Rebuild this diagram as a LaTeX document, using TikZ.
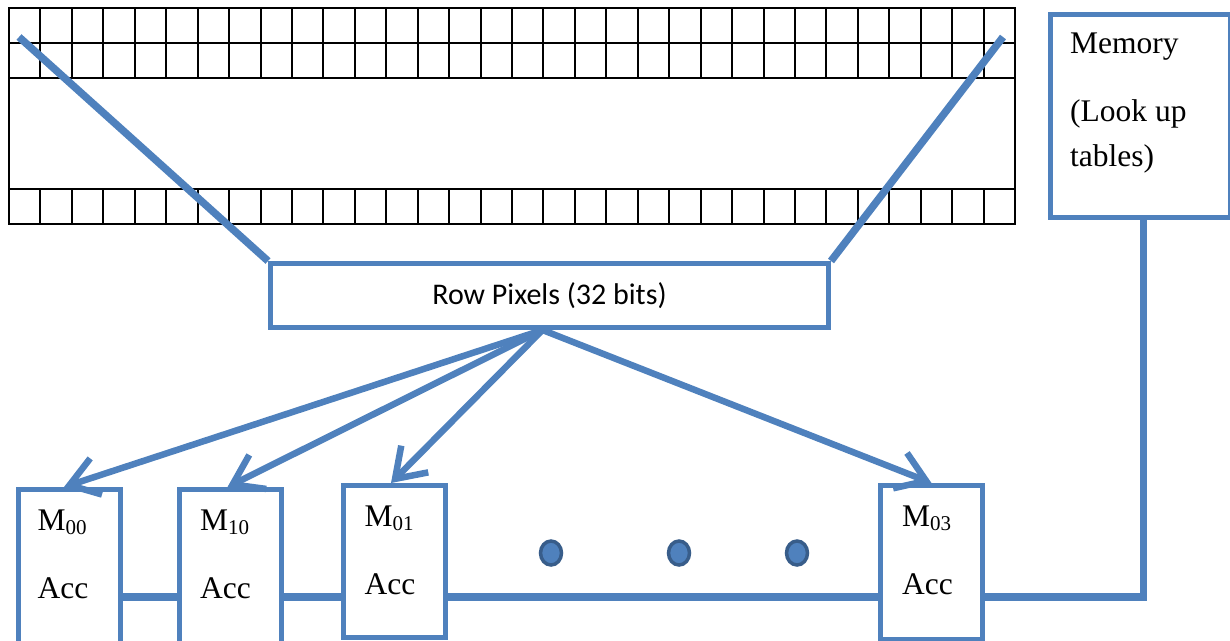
\documentclass[tikz,border=0pt]{standalone}
\usepackage{fontspec}
\setmainfont{Liberation Serif}
\newfontfamily\calibri{Carlito}
\usetikzlibrary{arrows.meta}
\definecolor{office}{HTML}{4F81BD}
\definecolor{officedark}{HTML}{385D8A}
% M with a two-digit subscript index
\newcommand{\msub}[1]{M\raisebox{-4pt}{\fontsize{21}{21}\selectfont #1}}
\begin{document}
\begin{tikzpicture}[x=1pt,y=-1pt,
  gridline/.style={line width=2pt, black},
  blueline/.style={line width=7.5pt, office},
  busline/.style={line width=7.5pt, office, line join=miter},
  arrowline/.style={line width=6.5pt, office, line cap=round, line join=round,
    -{Straight Barb[length=28pt,width=38pt]}},
  bluebox/.style={draw=office, line width=5pt, fill=white, inner sep=0pt},
  mbox/.style={bluebox, minimum width=102pt, anchor=north},
  boxtext/.style={font=\fontsize{31.5}{68}\selectfont, align=left, inner sep=0pt, anchor=north west},
  dotstyle/.style={draw=officedark, fill=office, line width=3.5pt}
]
\useasboundingbox (0,0) rectangle (1230,640);

% pixel grid: two rows on top, one row at the bottom, 32 columns
\foreach \k in {1,...,31}{
  \draw[gridline] ({9+31.44*\k},8) -- ({9+31.44*\k},78);
  \draw[gridline] ({9+31.44*\k},189) -- ({9+31.44*\k},224);
}
\draw[gridline] (9,43) -- (1015,43);
\draw[gridline] (9,78) -- (1015,78);
\draw[gridline] (9,189) -- (1015,189);
\draw[gridline] (9,8) rectangle (1015,224);

% boxes
\node[bluebox, anchor=north west, minimum width=558pt, minimum height=64pt,
      font=\calibri\fontsize{30}{36}\selectfont] (row) at (268,261) {Row Pixels (32 bits)};
\node[bluebox, anchor=north west, minimum width=180pt, minimum height=203pt] (mem) at (1048,12) {};

% row selection lines
\coordinate (gl) at (19,37);
\coordinate (gr) at (1003,37);
\draw[blueline] (gl) -- (row.north west);
\draw[blueline] (gr) -- (row.north east);

% bus from memory to the accumulators
\coordinate (busy) at (0,597);
\draw[busline] ([xshift=3pt]mem.south) |- (busy -| 120,0);

% accumulator boxes
\node[mbox, minimum height=165pt] (m00) at (69,487) {};
\node[mbox, minimum height=165pt] (m10) at (230.5,487) {};
\node[mbox, minimum height=152pt] (m01) at (394,483) {};
\node[mbox, minimum height=154pt] (m03) at (931.5,483) {};

% arrows from the row buffer
\coordinate (src) at ([xshift=-7pt]row.south);
\draw[arrowline] (src) -- ([xshift=-5pt]m00.north);
\draw[arrowline] (src) -- ([xshift=-3pt]m10.north);
\draw[arrowline] (src) -- ([xshift=-3pt]m01.north);
\draw[arrowline] (src) -- (m03.north);

% ellipsis dots
\draw[dotstyle] (551,553) ellipse [x radius=10.5pt, y radius=12pt];
\draw[dotstyle] (679,553) ellipse [x radius=10.5pt, y radius=12pt];
\draw[dotstyle] (797,553) ellipse [x radius=10.5pt, y radius=12pt];

% texts
\node[boxtext, font=\fontsize{31.5}{45}\selectfont] (memtext) at ([shift={(22,20.5)}]mem.north west) {Memory\\[23pt](Look up\\tables)};
\node[boxtext] (t00) at ([shift={(22,22.5)}]m00.north west) {\msub{00}\\Acc};
\node[boxtext] (t10) at ([shift={(23,22.5)}]m10.north west) {\msub{10}\\Acc};
\node[boxtext] (t01) at ([shift={(24,22.5)}]m01.north west) {\msub{01}\\Acc};
\node[boxtext] (t03) at ([shift={(24,22.5)}]m03.north west) {\msub{03}\\Acc};
\end{tikzpicture}
\end{document}
